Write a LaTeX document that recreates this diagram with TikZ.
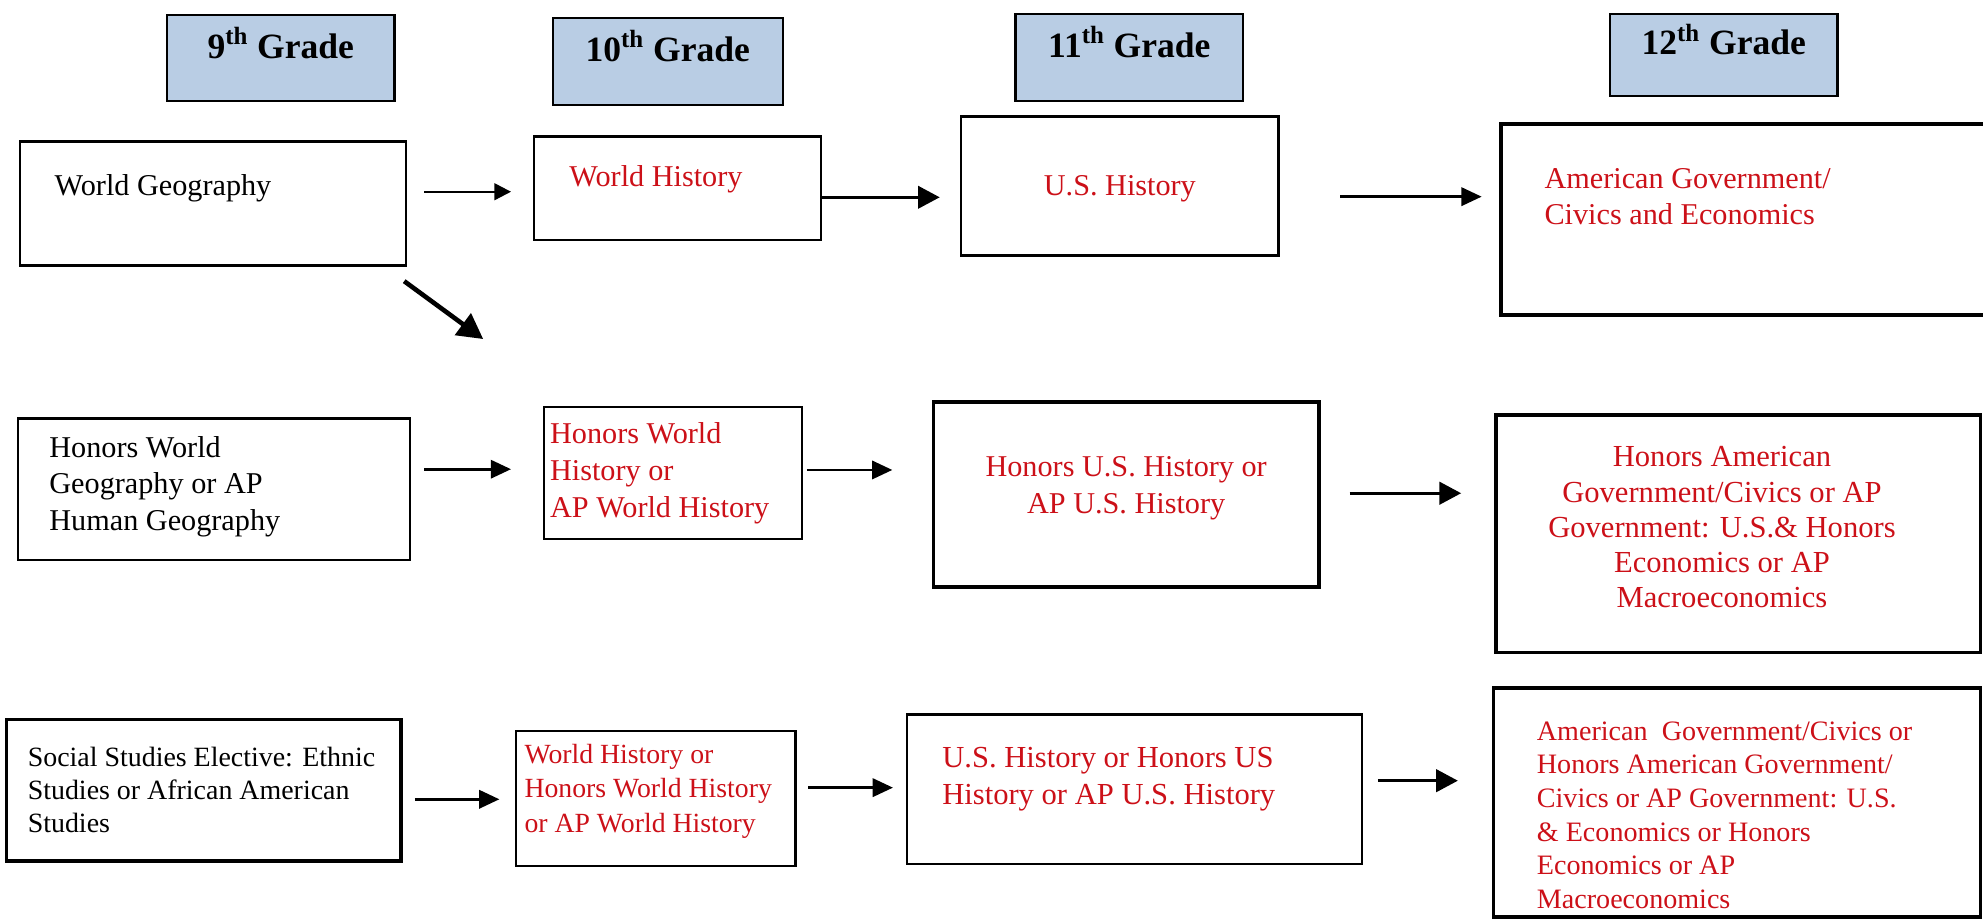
\documentclass[tikz,border=0pt]{standalone}
\usepackage{fontspec}
\setmainfont{Liberation Serif}
\usetikzlibrary{arrows.meta,fit}

\definecolor{gradeblue}{RGB}{185,205,228}
\definecolor{coursered}{RGB}{204,16,24}

\tikzset{
  box/.style={draw, line width=1.3pt, inner sep=0pt},
  bigbox/.style={draw, line width=2pt, inner sep=0pt},
  grade/.style={draw, line width=1.3pt, inner sep=0pt, fill=gradeblue,
    font=\bfseries\fontsize{20}{24}\selectfont},
  course/.style={inner sep=0pt, align=left, font=\fontsize{17}{20.6}\selectfont},
  redcourse/.style={course, text=coursered},
  thinarr/.style={line width=1.3pt, -{Triangle[length=3.3mm,width=3.3mm]}},
  midarr/.style={line width=1.6pt, -{Triangle[length=4mm,width=3.6mm]}},
  boldarr/.style={line width=1.9pt, -{Triangle[length=4.3mm,width=4.4mm]}},
  heavyarr/.style={line width=2.6pt, -{Triangle[length=5mm,width=5.2mm]}}
}

\begin{document}
\begin{tikzpicture}[x=0.25mm, y=-0.25mm]
  \path[use as bounding box, clip] (0,0) rectangle (1568,727);

  % grade headers
  \node[grade, fit={(132,12) (312,80)}] (g9) {9\textsuperscript{th} Grade};
  \node[grade, fit={(437,14) (619,83)}] (g10) {10\textsuperscript{th} Grade};
  \node[grade, fit={(803,11) (983,80)}] (g11) {11\textsuperscript{th} Grade};
  \node[grade, fit={(1273,11) (1453,76)}] (g12) {12\textsuperscript{th} Grade};

  % standard track
  \node[box, fit={(16,112) (321,210)}] (wg) {};
  \node[box, fit={(422,108) (649,190)}] (wh) {};
  \node[box, fit={(760,92) (1011,202)}] (ush) {};
  \node[bigbox, fit={(1187,98) (1580,249)}] (amgov) {};

  \node[course, anchor=west] (wgtext) at (43,149) {World Geography};
  \node[redcourse, anchor=west] (whtext) at (450,142) {World History};
  \node[redcourse, anchor=center] (ushtext) at (885.5,149) {U.S. History};
  \node[redcourse, anchor=west] (amgovtext) at (1221,155.5)
    {American Government/\\Civics and Economics};

  \draw[thinarr, shorten <=3.35mm, shorten >=4.25mm] (wg.east |- 0,151.6) -- (wh.west |- 0,151.6);
  \draw[boldarr, shorten >=4mm] (wh.east |- 0,156) -- (ush.west |- 0,156);
  \draw[midarr, shorten <=12mm, shorten >=3.5mm] (ush.east |- 0,155.5) -- (amgov.west |- 0,155.5);

  % honors track
  \node[box, fit={(14,331) (324,443)}] (hwg) {};
  \node[box, fit={(430,322) (634,426)}] (hwh) {};
  \node[bigbox, fit={(738,318) (1043,464)}] (hush) {};
  \node[bigbox, fit={(1183,328) (1566,516)}] (hamgov) {};

  \node[course, anchor=west] (hwgtext) at (38.8,384.8)
    {Honors World\\Geography or AP\\Human Geography};
  \node[redcourse, anchor=west] (hwhtext) at (434.7,374.3)
    {Honors World\\History or\\AP World History};
  \node[redcourse, align=center] (hushtext) at (890.5,386)
    {Honors U.S. History or\\AP U.S. History};
  \node[redcourse, align=center, font=\fontsize{17.2}{19.8}\selectfont] (hamgovtext) at (1361.6,417)
    {Honors American\\Government/Civics or AP\\Government: U.S.\& Honors\\Economics or AP\\Macroeconomics};

  \draw[heavyarr] ([shift={(-2.3,11.4)}]wg.south east) -- ([shift={(-47,-53)}]hwh.north west);
  \draw[midarr, shorten <=2.6mm, shorten >=6.25mm] (hwg.east |- 0,371) -- (hwh.west |- 0,371);
  \draw[midarr, shorten <=0.75mm, shorten >=7.75mm] (hwh.east |- 0,371.6) -- (hush.west |- 0,371.6);
  \draw[boldarr, shorten <=5.7mm, shorten >=6.55mm] (hush.east |- 0,390) -- (hamgov.west |- 0,390);

  % elective track
  \node[bigbox, fit={(5,569) (317,681)}] (sse) {};
  \node[box, fit={(408,578) (629,685)}] (whor) {};
  \node[box, fit={(717,565) (1077,683)}] (ushor) {};
  \node[bigbox, fit={(1181,544) (1566,725)}] (amgovor) {};

  \node[course, anchor=west, font=\fontsize{15.7}{18.6}\selectfont] (ssetext) at (21.7,624.6)
    {Social Studies Elective: Ethnic\\Studies or African American\\Studies};
  \node[redcourse, anchor=west, font=\fontsize{15.6}{19.4}\selectfont] (whortext) at (414.5,625.7)
    {World History or\\Honors World History\\or AP World History};
  \node[redcourse, anchor=west, font=\fontsize{17.2}{21.2}\selectfont] (ushortext) at (744.8,616)
    {U.S. History or Honors US\\History or AP U.S. History};
  \node[redcourse, anchor=west, font=\fontsize{15.8}{18.9}\selectfont] (amgovortext) at (1215,644.5)
    {American\ \ Government/Civics or\\Honors American Government/\\Civics or AP Government: U.S.\\\& Economics or Honors\\Economics or AP\\Macroeconomics};

  \draw[midarr, shorten <=2.4mm, shorten >=3.05mm] (sse.east |- 0,632) -- (whor.west |- 0,632);
  \draw[midarr, shorten <=2.25mm, shorten >=2.5mm] (whor.east |- 0,622.8) -- (ushor.west |- 0,622.8);
  \draw[boldarr, shorten <=2.9mm, shorten >=6.7mm] (ushor.east |- 0,617.3) -- (amgovor.west |- 0,617.3);
\end{tikzpicture}
\end{document}
